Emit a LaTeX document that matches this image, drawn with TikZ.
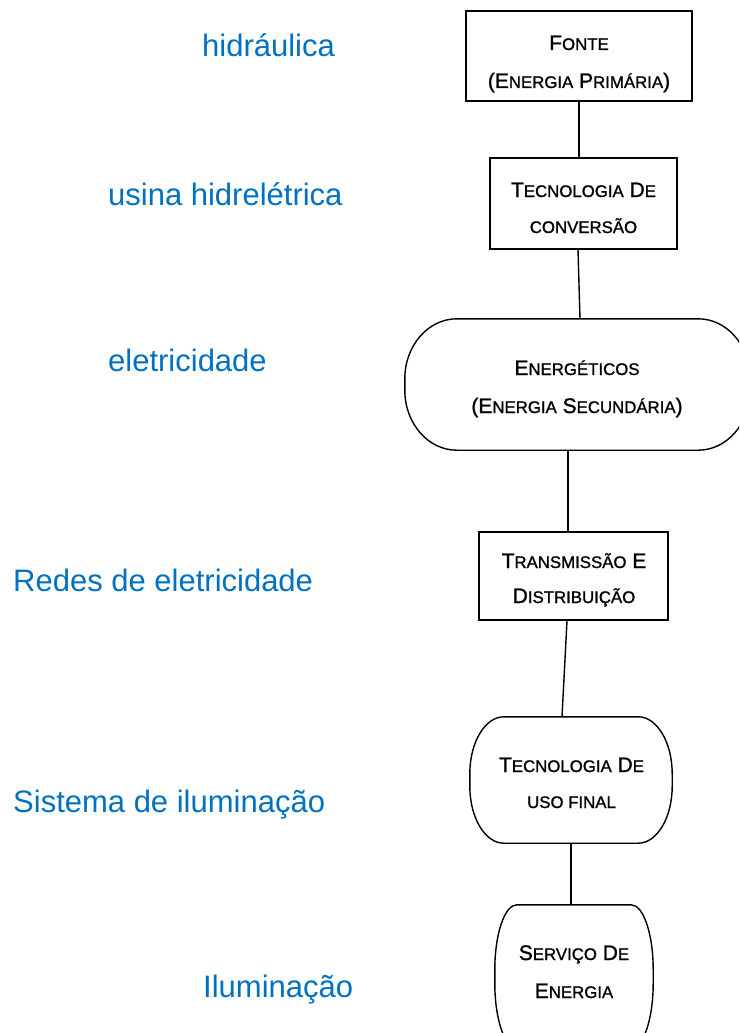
\documentclass[tikz,border=0pt]{standalone}
\usepackage{fontspec}
\setmainfont{Liberation Sans}
\newfontfamily\boxfont[FakeBold=1.2]{Liberation Sans}
\definecolor{lblue}{RGB}{0,112,192}
\tikzset{
  lbl/.style={anchor=base west, inner sep=0pt, text=lblue, font=\fontsize{31}{37}\selectfont},
  txt/.style={anchor=base, inner sep=0pt, font=\boxfont\fontsize{21}{25}\selectfont},
  boxr/.style={draw, line width=1.4pt, rectangle, inner sep=0pt},
  boxe/.style={draw=none, rectangle, inner sep=0pt},
  conn/.style={line width=1.4pt},
  outl/.style={line width=1.4pt},
}
\newcommand\sm[1]{{\fontsize{16.8}{20}\selectfont #1}}
\newcommand\ellout[3]{%
  \draw[outl] ([xshift=#2]#1.north west) -- ([xshift=-#2]#1.north east)
    arc[start angle=90,end angle=0,x radius=#2,y radius=#3]
    -- ([yshift=#3]#1.south east)
    arc[start angle=0,end angle=-90,x radius=#2,y radius=#3]
    -- ([xshift=#2]#1.south west)
    arc[start angle=270,end angle=180,x radius=#2,y radius=#3]
    -- ([yshift=-#3]#1.north west)
    arc[start angle=180,end angle=90,x radius=#2,y radius=#3] -- cycle;}
\begin{document}
\begin{tikzpicture}[x=1pt,y=-1pt]
\useasboundingbox (0,0) rectangle (739,1033);
\clip (0,0) rectangle (739,1033);

% left labels
\node[lbl] (l1) at (202,57) {hidráulica};
\node[lbl] (l2) at (108,205) {usina hidrelétrica};
\node[lbl] (l3) at (108,371) {eletricidade};
\node[lbl] (l4) at (13,591) {Redes de eletricidade};
\node[lbl] (l5) at (13,812) {Sistema de iluminação};
\node[lbl] (l6) at (203,997) {Iluminação};

% shapes
\node[boxr, minimum width=226pt, minimum height=90pt] (fonte) at (579,56) {};
\node[boxr, minimum width=187pt, minimum height=91pt] (conv) at (583.5,203.5) {};
\node[boxe, minimum width=345pt, minimum height=131pt] (energ) at (577.5,384.5) {};
\ellout{energ}{52pt}{60pt}
\node[boxr, minimum width=189pt, minimum height=88pt] (trans) at (573.5,576) {};
\node[boxe, minimum width=202pt, minimum height=126pt] (uso) at (571,780) {};
\ellout{uso}{34pt}{57pt}
\node[boxe, minimum width=158pt, minimum height=143pt] (serv) at (574,976.5) {};
\ellout{serv}{22pt}{65pt}

% texts
\node[txt] (fonte1) at (579,50) {F\sm{ONTE}};
\node[txt] (fonte2) at (579,88) {(E\sm{NERGIA} P\sm{RIMÁRIA})};
\node[txt] (conv1) at (583.5,197) {T\sm{ECNOLOGIA} D\sm{E}};
\node[txt] (conv2) at (583.5,233) {\sm{CONVERSÃO}};
\node[txt] (energ1) at (577,375) {E\sm{NERGÉTICOS}};
\node[txt] (energ2) at (577,413) {(E\sm{NERGIA} S\sm{ECUNDÁRIA})};
\node[txt] (trans1) at (574,568) {T\sm{RANSMISSÃO} E};
\node[txt] (trans2) at (574,603) {D\sm{ISTRIBUIÇÃO}};
\node[txt] (uso1) at (571.5,772) {T\sm{ECNOLOGIA} D\sm{E}};
\node[txt] (uso2) at (571.5,808) {\sm{USO FINAL}};
\node[txt] (serv1) at (574,960) {S\sm{ERVIÇO} D\sm{E}};
\node[txt] (serv2) at (574,998) {E\sm{NERGIA}};

% connectors
\draw[conn] (fonte.south) -- ([xshift=-4.5pt]conv.north);
\draw[conn] ([xshift=-5.5pt]conv.south) -- ([xshift=2.5pt]energ.north);
\draw[conn] ([xshift=-9.5pt]energ.south) -- ([xshift=-5.5pt]trans.north);
\draw[conn] ([xshift=-6.5pt]trans.south) -- ([xshift=-9pt]uso.north);
\draw[conn] (uso.south) -- ([xshift=-3pt]serv.north);
\end{tikzpicture}
\end{document}
